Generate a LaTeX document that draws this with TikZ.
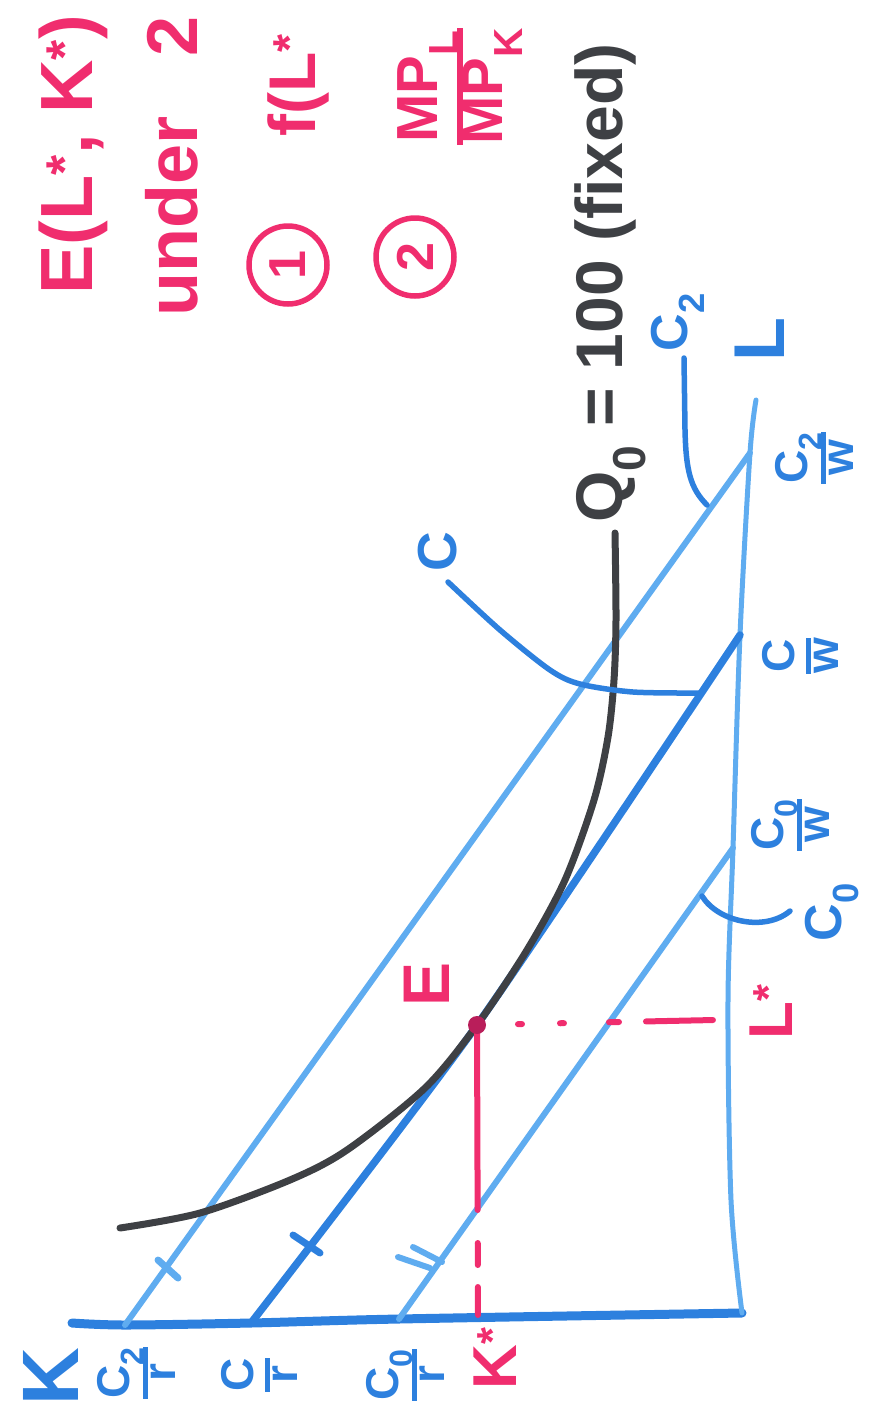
\documentclass[tikz,border=0pt]{standalone}
\usepackage{fontspec}
\setmainfont{Liberation Sans}
\definecolor{lblue}{RGB}{95,172,240}
\definecolor{mblue}{RGB}{45,128,222}
\definecolor{hpink}{RGB}{240,45,110}
\definecolor{ink}{RGB}{62,64,68}
\definecolor{edot}{RGB}{185,30,90}
\newcommand{\hwfrac}[2]{{\setlength{\arrayrulewidth}{0.1em}\renewcommand{\arraystretch}{0.85}\begin{tabular}{@{}c@{}}#1\\\hline #2\end{tabular}}}
\newcommand{\fz}[1]{\fontsize{#1}{#1}\bfseries\selectfont}
\begin{document}
\begin{tikzpicture}[x=1pt,y=-1pt,line cap=round,line join=round,
  lab/.style={rotate=90,inner sep=0pt},
  bluelab/.style={lab,text=mblue},
  pinklab/.style={lab,text=hpink},
  inklab/.style={lab,text=ink},
  kaxis/.style={draw=mblue,line width=9pt},
  laxis/.style={draw=lblue,line width=5pt},
  budget/.style={draw=lblue,line width=6pt},
  budgetmid/.style={draw=mblue,line width=7.5pt},
  tickm/.style={line width=7pt},
  isoq/.style={draw=ink,line width=7pt},
  guide/.style={draw=hpink,line width=6pt},
  leader/.style={draw=mblue,line width=5.5pt},
  numcirc/.style={circle,draw=hpink,line width=5.5pt,minimum size=78pt,inner sep=0pt,text=hpink}]
\useasboundingbox (0,0) rectangle (874,1414);
\clip (0,0) rectangle (874,1414);

% key points
\coordinate (O) at (742,1313);
\coordinate (Ktip) at (72,1323);
\coordinate (Ltip) at (756,400);
\coordinate (K2) at (125,1325);
\coordinate (L2) at (750,453);
\coordinate (K1) at (251,1323);
\coordinate (L1) at (740,635);
\coordinate (K0) at (399,1319);
\coordinate (L0) at (733,848);
\coordinate (E) at (477,1025);
\coordinate (Ls) at (714,1020);
\coordinate (Ks) at (478,1318);

% axes
\draw[kaxis] plot[smooth] coordinates {(Ktip) (K2) (K1) (K0) (O)};
\draw[laxis] plot[smooth] coordinates {(O) (731,1200) (728,1000) (L0) (L1) (L2) (Ltip)};

% budget lines
\draw[budget] (K2) -- (L2);
\draw[budgetmid] plot[smooth,tension=0.4] coordinates {(K1) (E) (L1)};
\draw[budget] (K0) -- (L0);

% ticks
\draw[tickm,lblue] (158,1260) -- (178,1278);
\draw[tickm,mblue] (293,1235) -- (320,1253);
\draw[tickm,lblue,line width=6pt] (398,1257) -- (430,1268);
\draw[tickm,lblue,line width=6pt] (413,1247) -- (442,1262);

% isoquant
\draw[isoq] plot[smooth] coordinates {(120,1228) (200,1213) (290,1180) (347,1150) (425,1088) (E) (527,950) (565,880) (594,800) (608,737) (614,680) (616,620) (615,533)};

% guide lines
\draw[guide,dash pattern=on 0pt off 41pt on 4pt off 38pt on 4pt off 45pt on 10pt off 27pt on 67pt off 200pt] (E) -- (Ls);
\draw[guide,dash pattern=on 185pt off 33pt on 22pt off 22pt on 28pt off 100pt] (E) -- (Ks);
\fill[edot] (E) circle (9pt);

% leaders
\draw[leader] (707,505) .. controls (690,488) and (686,470) .. (685,430) -- (684,358);
\draw[leader] plot[smooth] coordinates {(448,582) (500,630) (550,670) (580,684) (633,692) (700,693)};
\draw[leader] (702,896) .. controls (718,922) and (765,932) .. (790,911);

% axis labels
\node[bluelab,font=\fz{80}] (lK) at (51,1377) {K};
\node[bluelab,font=\fz{72}] (lL) at (760,340) {L};
\node[pinklab,font=\fz{62}] (lKs) at (495,1358) {K\textsuperscript{*}};
\node[pinklab,font=\fz{62}] (lLs) at (771,1012) {L\textsuperscript{*}};
\node[pinklab,font=\fz{66}] (lE) at (427,984) {E};

% fraction labels
\node[bluelab,font=\fz{46}] (c2w) at (820,458) {\hwfrac{C\textsubscript{2}}{w}};
\node[bluelab,font=\fz{46}] (c1w) at (806,656) {\hwfrac{C}{w}};
\node[bluelab,font=\fz{46}] (c0w) at (796,825) {\hwfrac{C\textsubscript{0}}{w}};
\node[bluelab,font=\fz{46}] (c2r) at (142,1373) {\hwfrac{C\textsubscript{2}}{r}};
\node[bluelab,font=\fz{46}] (c1r) at (265,1375) {\hwfrac{C}{r}};
\node[bluelab,font=\fz{46}] (c0r) at (411,1375) {\hwfrac{C\textsubscript{0}}{r}};

% curve labels
\node[bluelab,font=\fz{52}] (lC2) at (678,322) {C\textsubscript{2}};
\node[bluelab,font=\fz{55}] (lC1) at (438,552) {C};
\node[bluelab,font=\fz{52}] (lC0) at (832,912) {C\textsubscript{0}};

% isoquant label
\node[inklab,anchor=base west,font=\fz{66}] (lQ) at (622,523) {Q\textsubscript{0} = 100 (fixed)};

% top notes
\node[pinklab,anchor=base west,font=\fz{74}] (t1) at (92,295) {E(L\textsuperscript{*}, K\textsuperscript{*})};
\node[pinklab,anchor=base west,font=\fz{72}] (t2) at (197,317) {under\hspace{60pt}2};
\node[numcirc,font=\fz{52}] (n1) at (288,265) {\rotatebox{90}{1}};
\node[pinklab,anchor=base west,font=\fz{66}] (t3) at (315,137) {f(L\textsuperscript{*}};
\node[numcirc,font=\fz{52}] (n2) at (415,257) {\rotatebox{90}{2}};
\node[pinklab,anchor=west,font=\fz{58}] (t4) at (460,145) {\hwfrac{MP\textsubscript{L}}{MP\textsubscript{K}}};
\end{tikzpicture}
\end{document}
